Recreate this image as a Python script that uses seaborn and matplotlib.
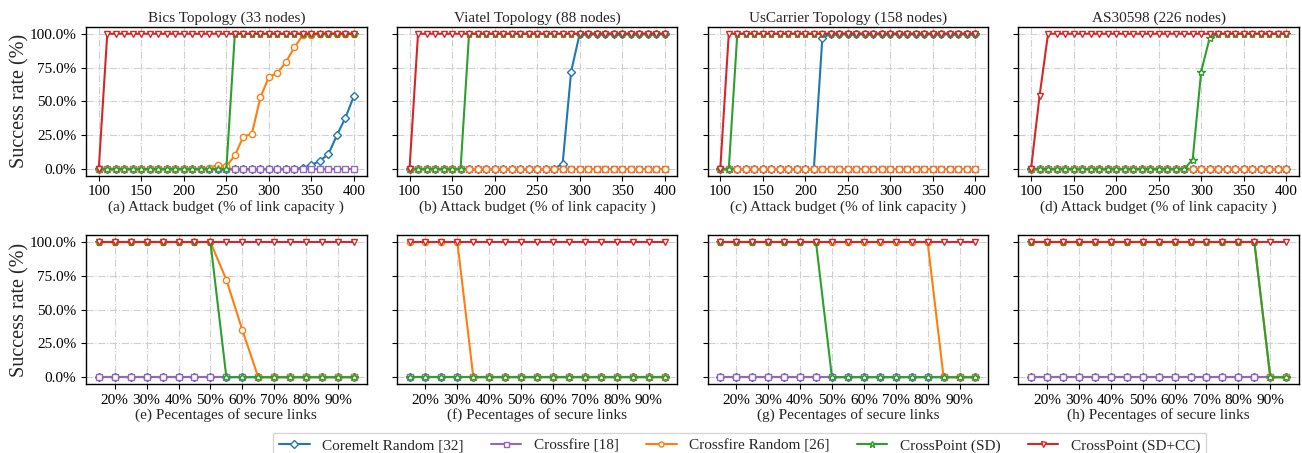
import numpy as np
import pandas as pd
import seaborn as sns
import matplotlib
matplotlib.use("Agg")
import matplotlib.pyplot as plt
from matplotlib.ticker import PercentFormatter

# ---------------- data ----------------
budget = list(range(100, 401, 10))          # 31 points
secure = list(range(15, 96, 5))             # 17 points

series_names = ["Coremelt Random [32]", "Crossfire [18]", "Crossfire Random [26]",
                "CrossPoint (SD)", "CrossPoint (SD+CC)"]
colors = ["#1f77b4", "#9467bd", "#ff7f0e", "#2ca02c", "#d62728"]
markers = ["D", "s", "o", "*", "v"]

top_titles = ["Bics Topology (33 nodes)", "Viatel Topology (88 nodes)",
              "UsCarrier Topology (158 nodes)", "AS30598 (226 nodes)"]
top_xlabels = ["(a) Attack budget (% of link capacity )", "(b) Attack budget (% of link capacity )",
               "(c) Attack budget (% of link capacity )", "(d) Attack budget (% of link capacity )"]
bot_xlabels = ["(e) Pecentages of secure links", "(f) Pecentages of secure links",
               "(g) Pecentages of secure links", "(h) Pecentages of secure links"]

# (a) Bics
a_coremelt = [0]*24 + [1, 3, 6, 11, 25, 38, 54]
a_crossfire = [0]*31
a_cfrandom = [0]*13 + [1, 3, 2, 10, 24, 26, 53, 68, 71, 79, 90, 99, 99, 100, 100, 100, 100, 100]
a_sd = [0]*16 + [100]*15
a_sdcc = [0] + [100]*30

# (b) Viatel
b_coremelt = [0]*18 + [4, 72] + [100]*11
b_crossfire = [0]*31
b_cfrandom = [0]*31
b_sd = [0]*7 + [100]*24
b_sdcc = [0] + [100]*30

# (c) UsCarrier
c_coremelt = [0]*12 + [97] + [100]*18
c_crossfire = [0]*31
c_cfrandom = [0]*31
c_sd = [0, 0] + [100]*29
c_sdcc = [0] + [100]*30

# (d) AS30598
d_coremelt = [0]*31
d_crossfire = [0]*31
d_cfrandom = [0]*31
d_sd = [0]*19 + [7, 72, 97] + [100]*9
d_sdcc = [0, 54] + [100]*29

# (e)
e_coremelt = [0]*17
e_crossfire = [0]*17
e_cfrandom = [100]*8 + [72, 35] + [0]*7
e_sd = [100]*8 + [0]*9
e_sdcc = [100]*17

# (f)
f_coremelt = [0]*17
f_crossfire = [0]*17
f_cfrandom = [100]*4 + [0]*13
f_sd = [0]*17
f_sdcc = [100]*17

# (g)
g_coremelt = [0]*17
g_crossfire = [0]*17
g_cfrandom = [100]*14 + [0]*3
g_sd = [100]*7 + [0]*10
g_sdcc = [100]*17

# (h)
h_coremelt = [0]*17
h_crossfire = [0]*17
h_cfrandom = [100]*15 + [0]*2
h_sd = [100]*15 + [0]*2
h_sdcc = [100]*17

top_data = [
    [a_coremelt, a_crossfire, a_cfrandom, a_sd, a_sdcc],
    [b_coremelt, b_crossfire, b_cfrandom, b_sd, b_sdcc],
    [c_coremelt, c_crossfire, c_cfrandom, c_sd, c_sdcc],
    [d_coremelt, d_crossfire, d_cfrandom, d_sd, d_sdcc],
]
bot_data = [
    [e_coremelt, e_crossfire, e_cfrandom, e_sd, e_sdcc],
    [f_coremelt, f_crossfire, f_cfrandom, f_sd, f_sdcc],
    [g_coremelt, g_crossfire, g_cfrandom, g_sd, g_sdcc],
    [h_coremelt, h_crossfire, h_cfrandom, h_sd, h_sdcc],
]

# ---------------- style ----------------
sns.set_theme(style="ticks")
plt.rcParams["font.family"] = ["Liberation Serif", "DejaVu Serif"]
plt.rcParams["mathtext.fontset"] = "stix"
plt.rcParams["axes.edgecolor"] = "black"
plt.rcParams["axes.linewidth"] = 1.0
plt.rcParams["xtick.color"] = "black"
plt.rcParams["ytick.color"] = "black"

fig, axes = plt.subplots(2, 4, figsize=(13.02, 4.53), dpi=100, sharey=True)
fig.subplots_adjust(left=86/1302, right=1299/1302, top=1-27/453, bottom=1-384/453,
                    wspace=0.107, hspace=0.40)

def draw(ax, x, ys):
    for name, y, c, m in zip(series_names, ys, colors, markers):
        ms = 6 if m == "*" else 4.5
        sns.lineplot(x=x, y=y, ax=ax, color=c, marker=m, markersize=ms,
                     markerfacecolor="white", markeredgecolor=c, markeredgewidth=1.0,
                     linewidth=1.5, label=name, legend=False, errorbar=None)
    ax.grid(True, linestyle="-.", color="#d0d0d0", linewidth=0.8)
    ax.set_axisbelow(True)
    ax.yaxis.set_major_formatter(PercentFormatter(xmax=100, decimals=1))
    ax.set_yticks([0, 25, 50, 75, 100])
    ax.tick_params(labelsize=11, length=3.5, width=0.8)
    for s in ax.spines.values():
        s.set_visible(True)
        s.set_color("black")

for i in range(4):
    ax = axes[0, i]
    draw(ax, budget, top_data[i])
    ax.set_title(top_titles[i], fontsize=11, pad=4)
    ax.set_xlabel(top_xlabels[i], fontsize=11, labelpad=1)
    ax.set_xticks([100, 150, 200, 250, 300, 350, 400])
    ax.set_ylabel("")

    ax = axes[1, i]
    draw(ax, secure, bot_data[i])
    ax.set_xlabel(bot_xlabels[i], fontsize=11, labelpad=1)
    ax.set_xticks(list(range(20, 91, 10)))
    ax.xaxis.set_major_formatter(PercentFormatter(xmax=100, decimals=0))
    ax.set_ylabel("")

axes[0, 0].set_ylabel("Success rate (%)", fontsize=14.5, labelpad=0)
axes[1, 0].set_ylabel("Success rate (%)", fontsize=14.5, labelpad=0)

handles, labels = axes[0, 0].get_legend_handles_labels()
fig.legend(handles, labels, loc="upper center", bbox_to_anchor=(0.568, 0.062),
           ncol=5, fontsize=11, frameon=True, edgecolor="#cccccc", fancybox=False,
           handlelength=2.0, columnspacing=1.8, borderpad=0.4, markerscale=0.8)

fig.savefig("out.png", dpi=100)
